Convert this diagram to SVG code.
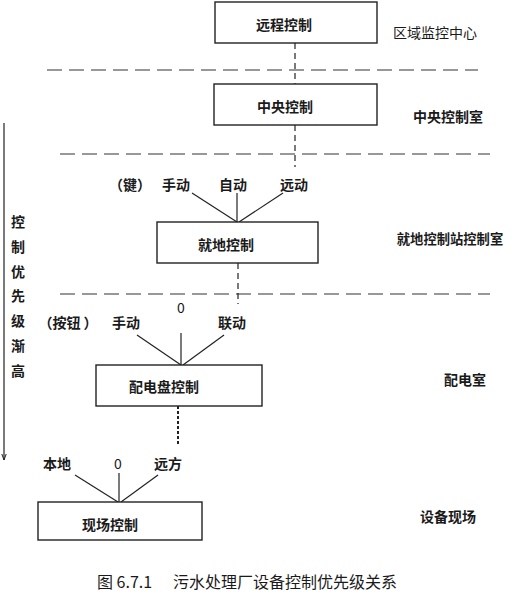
<svg xmlns="http://www.w3.org/2000/svg" width="512" height="592" viewBox="0 0 512 592">
<style>
.bg{fill:#ffffff}
.box{fill:#ffffff;stroke:#222;stroke-width:1.4}
.t{font-family:"Noto Sans CJK SC","Noto Sans",sans-serif;font-size:14px;font-weight:bold;fill:#1a1a1a;text-anchor:middle}
.n{font-weight:normal}
.sep{stroke:#333;stroke-width:1.2;stroke-dasharray:15 7;fill:none}
.vd{stroke:#222;stroke-width:1.2;stroke-dasharray:6 4;fill:none}
.vd2{stroke:#222;stroke-width:2;stroke-dasharray:3 2;fill:none}
.ln{stroke:#222;stroke-width:1.2;fill:none}
.cap{font-family:"Noto Sans CJK SC","Noto Sans",sans-serif;font-size:16px;fill:#1a1a1a}
</style>
<defs>
<marker id="arr" viewBox="0 0 6 6" refX="6" refY="3" markerWidth="6" markerHeight="6" orient="auto" markerUnits="userSpaceOnUse">
<path d="M0,0.8 L6,3 L0,5.2" fill="none" stroke="#222" stroke-width="1"/>
</marker>
</defs>
<rect class="bg" x="0" y="0" width="512" height="592"/>

<g id="separators">
<line class="sep" x1="47" y1="70" x2="478" y2="70"/>
<line class="sep" x1="60" y1="154" x2="490" y2="154"/>
<line class="sep" x1="60" y1="294" x2="490" y2="294"/>
</g>

<g id="connectors">
<line class="vd" x1="295" y1="43" x2="295" y2="84"/>
<line class="vd" x1="295" y1="125" x2="295" y2="167"/>
<line class="ln" x1="192" y1="193" x2="237" y2="222"/>
<line class="ln" x1="237" y1="193" x2="237" y2="222"/>
<line class="ln" x1="283" y1="193" x2="239" y2="222"/>
<line class="vd" x1="238" y1="263" x2="238" y2="304"/>
<line class="ln" x1="137" y1="335" x2="181" y2="365"/>
<line class="ln" x1="181" y1="333" x2="181" y2="365"/>
<line class="ln" x1="224" y1="335" x2="183" y2="365"/>
<line class="vd2" x1="178" y1="406" x2="178" y2="445"/>
<line class="ln" x1="75" y1="475" x2="118" y2="502"/>
<line class="ln" x1="119" y1="473" x2="119" y2="502"/>
<line class="ln" x1="158" y1="475" x2="121" y2="502"/>
<line class="ln" x1="4" y1="123" x2="4" y2="460" marker-end="url(#arr)"/>
</g>

<g id="node-remote">
<rect class="box" x="215" y="2" width="162" height="41"/>
<text class="t" x="284" y="30">远程控制</text>
</g>
<g id="node-central">
<rect class="box" x="214" y="84" width="163" height="41"/>
<text class="t" x="285" y="112">中央控制</text>
</g>
<g id="node-local">
<rect class="box" x="157" y="222" width="161" height="41"/>
<text class="t" x="226" y="250">就地控制</text>
</g>
<g id="node-panel">
<rect class="box" x="96" y="365" width="166" height="41"/>
<text class="t" x="164" y="392">配电盘控制</text>
</g>
<g id="node-field">
<rect class="box" x="38" y="502" width="164" height="38"/>
<text class="t" x="110" y="530">现场控制</text>
</g>

<g id="labels">
<text class="t n" x="435" y="38">区域监控中心</text>
<text class="t" x="448" y="122">中央控制室</text>
<text class="t" x="450" y="244" style="font-size:13.3px">就地控制站控制室</text>
<text class="t" x="465" y="385">配电室</text>
<text class="t" x="448" y="522">设备现场</text>

<text class="t" x="130" y="190">（键）</text>
<text class="t" x="176" y="190">手动</text>
<text class="t" x="233" y="190">自动</text>
<text class="t" x="294" y="190">远动</text>

<text class="t n" x="181" y="313">0</text>
<text class="t" x="68" y="328">（按钮 ）</text>
<text class="t" x="126" y="328">手动</text>
<text class="t" x="232" y="328">联动</text>

<text class="t" x="57" y="469">本地</text>
<text class="t n" x="118" y="469">0</text>
<text class="t" x="168" y="469">远方</text>

<text class="t" x="18" y="227">控</text>
<text class="t" x="18" y="252">制</text>
<text class="t" x="18" y="277">优</text>
<text class="t" x="18" y="301">先</text>
<text class="t" x="18" y="326">级</text>
<text class="t" x="18" y="351">渐</text>
<text class="t" x="18" y="376">高</text>
</g>

<g id="caption">
<text class="cap" x="97" y="588">图 6.7.1</text>
<text class="cap" x="173" y="588">污水处理厂设备控制优先级关系</text>
</g>
</svg>
